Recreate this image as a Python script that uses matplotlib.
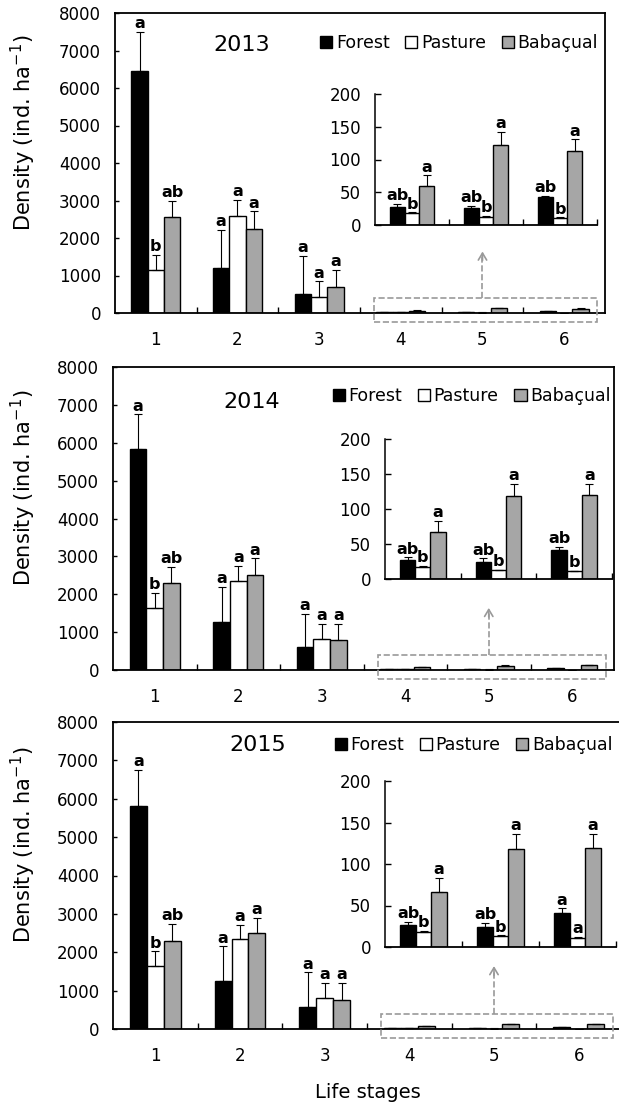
import numpy as np
import matplotlib.pyplot as plt
from matplotlib.patches import Patch, Rectangle

W, H = 619, 1103

stages = [1, 2, 3, 4, 5, 6]
years = ["2013", "2014", "2015"]
groups = ["Forest", "Pasture", "Babaçual"]

# 2013
forest_2013 = [6450, 1190, 510, 27, 25.5, 42]
forest_2013_err = [1050, 1030, 1020, 5, 4, 3]
pasture_2013 = [1150, 2600, 420, 18, 12.5, 10.5]
pasture_2013_err = [410, 420, 425, 1.5, 1, 1]
babacual_2013 = [2550, 2230, 705, 60, 122, 113]
babacual_2013_err = [450, 480, 445, 16, 20, 18]

# 2014
forest_2014 = [5830, 1280, 620, 26.5, 24, 41.5]
forest_2014_err = [920, 920, 860, 4.5, 5.5, 4.5]
pasture_2014 = [1650, 2350, 830, 17, 12.5, 11]
pasture_2014_err = [380, 400, 390, 1.5, 1, 1]
babacual_2014 = [2300, 2500, 780, 67, 118.5, 120]
babacual_2014_err = [430, 450, 440, 16.5, 17.5, 16]

# 2015
forest_2015 = [5800, 1260, 570, 26.5, 24, 41.5]
forest_2015_err = [950, 890, 910, 4, 5.5, 5]
pasture_2015 = [1630, 2350, 810, 18, 13, 11]
pasture_2015_err = [390, 370, 390, 1.5, 1, 1]
babacual_2015 = [2300, 2500, 750, 66.5, 118.5, 119.5]
babacual_2015_err = [440, 400, 450, 16.5, 18, 17]

# letters (significance)
letters_forest_2013 = ["a", "a", "a", "ab", "ab", "ab"]
letters_pasture_2013 = ["b", "a", "a", "b", "b", "b"]
letters_babacual_2013 = ["ab", "a", "a", "a", "a", "a"]
letters_forest_2014 = ["a", "a", "a", "ab", "ab", "ab"]
letters_pasture_2014 = ["b", "a", "a", "b", "b", "b"]
letters_babacual_2014 = ["ab", "a", "a", "a", "a", "a"]
letters_forest_2015 = ["a", "a", "a", "ab", "ab", "a"]
letters_pasture_2015 = ["b", "a", "a", "b", "b", "a"]
letters_babacual_2015 = ["ab", "a", "a", "a", "a", "a"]

colors = ["black", "white", "#a6a6a6"]
offsets = [-0.2, 0.0, 0.2]
bw = 0.2


def px_rect(l, t, r, b):
    return [l / W, 1 - b / H, (r - l) / W, (b - t) / H]


# pixel layout: main axes, inset axes, title pos, legend pos
layout = [
    dict(main=(115, 13, 605, 313), inset=(375, 94, 597, 225), title=(0.259, 0.893), leg=(0.985, 0.9)),
    dict(main=(113, 367, 614, 670), inset=(385, 439, 612, 579), title=(0.277, 0.884), leg=(0.993, 0.904)),
    dict(main=(113, 722, 621, 1029), inset=(385, 781, 616, 947), title=(0.285, 0.925), leg=(0.983, 0.925)),
]

series = {
    "2013": [(forest_2013, forest_2013_err, letters_forest_2013),
             (pasture_2013, pasture_2013_err, letters_pasture_2013),
             (babacual_2013, babacual_2013_err, letters_babacual_2013)],
    "2014": [(forest_2014, forest_2014_err, letters_forest_2014),
             (pasture_2014, pasture_2014_err, letters_pasture_2014),
             (babacual_2014, babacual_2014_err, letters_babacual_2014)],
    "2015": [(forest_2015, forest_2015_err, letters_forest_2015),
             (pasture_2015, pasture_2015_err, letters_pasture_2015),
             (babacual_2015, babacual_2015_err, letters_babacual_2015)],
}

plt.rcParams['font.family'] = ['DejaVu Sans']

fig = plt.figure(figsize=(W / 100, H / 100), dpi=100)


def draw_bars(ax, data, xs, label_idx):
    out = []
    for (vals, errs, lets), c, off in zip(data, colors, offsets):
        x = np.array(xs) + off
        v = np.array(vals)[label_idx]
        e = np.array(errs)[label_idx]
        ax.bar(x, v, width=bw, color=c, edgecolor="black", linewidth=1.0, zorder=2)
        ax.errorbar(x, v, yerr=[np.zeros_like(e), e], fmt="none", ecolor="black",
                    elinewidth=0.8, capsize=3, capthick=0.8, zorder=3)
        out.append((x, v + e, [lets[i] for i in label_idx]))
    return out


for year, lay in zip(years, layout):
    data = series[year]
    l, t, r, b = lay["main"]
    ax = fig.add_axes(px_rect(l, t, r, b))
    for x, tops, lets in draw_bars(ax, data, stages, list(range(6))):
        for xi, ti, li in list(zip(x, tops, lets))[:3]:
            ax.annotate(li, (xi, ti), xytext=(0, 0.5), textcoords="offset points",
                        ha="center", va="bottom", fontsize=11.5, fontweight="bold")
    ax.set_xlim(0.5, 6.5)
    ax.set_ylim(0, 8000)
    ax.set_yticks(np.arange(0, 8001, 1000))
    ax.set_xticks(stages)
    ax.set_xticks([1.5, 2.5, 3.5, 4.5, 5.5], minor=True)
    ax.tick_params(axis="x", which="major", length=0, pad=13, labelsize=12)
    ax.tick_params(axis="x", which="minor", direction="in", length=4, width=1)
    ax.tick_params(axis="y", direction="in", length=3, width=1, pad=10, labelsize=12)
    for s in ax.spines.values():
        s.set_linewidth(1.3)
    ax.set_ylabel("Density (ind. ha$^{\\mathregular{-1}}$)", fontsize=15)
    ax.yaxis.set_label_coords((38 - l) / (r - l), 0.6)
    ax.text(lay["title"][0], lay["title"][1], year, transform=ax.transAxes,
            ha="center", va="center", fontsize=16)
    handles = [Patch(facecolor=c, edgecolor="black", linewidth=1.0) for c in colors]
    ax.legend(handles, groups, loc="center right", bbox_to_anchor=lay["leg"], ncol=3,
              frameon=False, fontsize=12.5, handlelength=0.7, handleheight=0.7,
              handletextpad=0.2, columnspacing=0.9, borderpad=0, borderaxespad=0)

    # dashed box around stages 4-6 and arrow to inset
    box = Rectangle((3.67, -230), 6.4 - 3.67, 630, fill=False, ls="--",
                    ec="#999999", lw=1.2, clip_on=False, zorder=4)
    ax.add_patch(box)
    ax.plot([5.0, 5.0], [400, 1560], ls="--", color="#999999", lw=1.2, zorder=4)
    ax.annotate("", xy=(5.0, 1640), xytext=(5.0, 1400),
                arrowprops=dict(arrowstyle="->,head_length=0.5,head_width=0.3",
                                color="#999999", lw=1.2, shrinkA=0, shrinkB=0))

    # inset
    ins = fig.add_axes(px_rect(*lay["inset"]))
    for x, tops, lets in draw_bars(ins, data, [4, 5, 6], [3, 4, 5]):
        for xi, ti, li in zip(x, tops, lets):
            ins.annotate(li, (xi, ti), xytext=(0, 0.5), textcoords="offset points",
                         ha="center", va="bottom", fontsize=11.5, fontweight="bold")
    ins.set_xlim(3.5, 6.5)
    ins.set_ylim(0, 200)
    ins.set_yticks(np.arange(0, 201, 50))
    ins.set_xticks([4.5, 5.5, 6.5])
    ins.set_xticklabels([])
    ins.tick_params(axis="x", direction="in", length=4, width=1)
    ins.tick_params(axis="y", direction="in", length=4, width=1, pad=10, labelsize=12)
    ins.spines["top"].set_visible(False)
    ins.spines["right"].set_visible(False)
    ins.spines["left"].set_linewidth(1.1)
    ins.spines["bottom"].set_linewidth(1.3)
    ins.patch.set_alpha(0)

fig.text(368 / W, 1 - 1093 / H, "Life stages", ha="center", va="center", fontsize=14)

fig.savefig("out.png", dpi=100)
